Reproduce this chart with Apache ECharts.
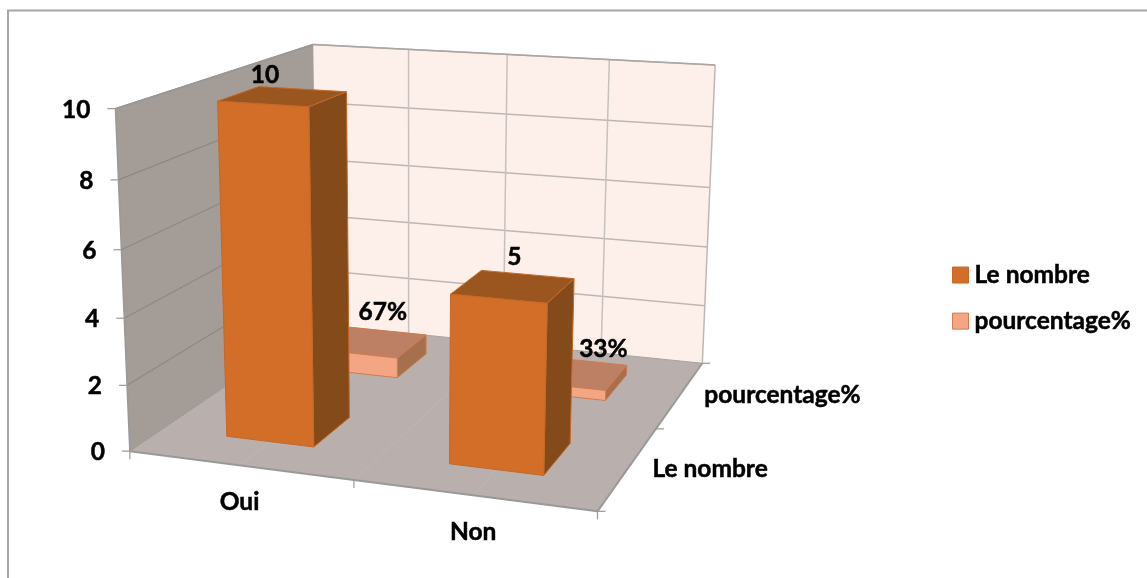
<!DOCTYPE html><html><body style="margin:0;background:#fff"><div id="c" style="width:1147px;height:578px"></div>
<script src="https://cdn.jsdelivr.net/npm/echarts@6/dist/echarts.min.js"></script>
<script>
var categories=['Oui','Non'];
var depthCategories=['Le nombre','pourcentage%'];
var nombreValues=[10,5];
var pourcentageValues=[0.67,0.33];
var valueTicks=[0,2,4,6,8,10];

// label nudges, in pixels (layout only)
var nombreLabelShift=[[-18,-21],[1,-29]];
var pourcentageLabelShift=[[10,-30],[29,-24]];

// camera fitted to the picture: floor and height in unit coordinates -> pixels
var CAM=[419.724,262.038,-20.003,129.843, 19.200,-50.554,-347.828,451.136, -0.08019,0.23579,-0.04873];
function project(s,t,h){
  var z=CAM[8]*s+CAM[9]*t+CAM[10]*h+1;
  return [(CAM[0]*s+CAM[1]*t+CAM[2]*h+CAM[3])/z,(CAM[4]*s+CAM[5]*t+CAM[6]*h+CAM[7])/z];
}
var FONT='Lato';var FS=24.5;
function txt(str,p,align,z2){return {type:'text',z2:z2||50,style:{text:str,x:p[0],y:p[1],align:align||'center',verticalAlign:'middle',fill:'#000',stroke:'#000',lineWidth:0.5,font:'700 '+FS+'px '+FONT}};}
function poly(pts,fill,stroke,lw,z2){return {type:'polygon',z2:z2||1,shape:{points:pts},style:{fill:fill,stroke:stroke||null,lineWidth:lw||0,lineJoin:'round'}};}
function seg(a,b,color,lw,z2){return {type:'line',z2:z2||5,shape:{x1:a[0],y1:a[1],x2:b[0],y2:b[1]},style:{stroke:color,lineWidth:lw}};}

function unitX(px,cs){return (px-cs.x)/cs.width;}
function unitY(py,cs){return (cs.y+cs.height-py)/cs.height;}

function barRenderer(depthIndex,colors,labelFmt,shifts){
  return function(params,api){
    var cs=params.coordSys;
    var i=api.value(0),v=api.value(1);
    var top=api.coord([i,v]);
    var halfBand=api.size([1,0])[0]*0.2;
    var s0=unitX(top[0]-halfBand,cs),s1=unitX(top[0]+halfBand,cs),sc=unitX(top[0],cs);
    var tc=(depthIndex+0.5)/depthCategories.length;
    var t0=tc-0.2/depthCategories.length,t1=tc+0.2/depthCategories.length;
    var h=unitY(top[1],cs);
    var a=project(s0,t0,h),b=project(s1,t0,h),c=project(s1,t1,h),d=project(s0,t1,h);
    var a0=project(s0,t0,0),b0=project(s1,t0,0),c0=project(s1,t1,0);
    var lbl=project(sc,tc,h);var sh=shifts[params.dataIndex];
    return {type:'group',children:[
      poly([d,c,b,a],colors.top,colors.edge,1,1),
      poly([b,c,c0,b0],colors.side,colors.edge,1,2),
      poly([a,b,b0,a0],colors.front,colors.edge,1,3),
      txt(labelFmt(v),[lbl[0]+sh[0],lbl[1]+sh[1]],'center',50)
    ]};
  };
}

function frame(params,api){
  var cs=params.coordSys;
  var ch=[];
  var FL=project(0,0,0),FR=project(1,0,0),BR=project(1,1,0),BL=project(0,1,0);
  var FLt=project(0,0,1),BRt=project(1,1,1),BLt=project(0,1,1);
  ch.push(poly([BLt,BRt,BR,BL],'#FDF0EB'));
  ch.push(poly([FLt,BLt,BL,FL],'#A39C97'));
  ch.push(poly([FL,FR,BR,BL],'#B9B0AD'));
  valueTicks.forEach(function(t){
    var h=unitY(api.coord([0,t])[1],cs);
    var p0=project(0,0,h),p1=project(0,1,h),p2=project(1,1,h);
    if(t>0){
      ch.push(seg(p0,p1,'#8E8884',1.2));
      ch.push(seg(p1,p2,'#BDB7B4',1.5));
    }
    ch.push(seg(p0,[p0[0]-8,p0[1]],'#999',1.2));
    ch.push(txt(String(t),[p0[0]-25,p0[1]+1],'right'));
  });
  [0.25,0.5,0.75].forEach(function(s){
    ch.push(seg(project(s,1,0),project(s,1,1),'#C6C1BF',1.5));
    ch.push(seg(project(s,0,0),project(s,1,0),'#BFB7B4',1));
  });
  ch.push(seg(FLt,FL,'#999',1.5));
  ch.push(seg(FLt,BLt,'#999',1.5));
  ch.push(seg(BLt,BRt,'#AAA5A3',1.5));
  ch.push(seg(BRt,BR,'#BDB7B4',1.5));
  ch.push(seg(BL,BR,'#A9A3A0',1));
  ch.push(seg(FL,BL,'#999',1));
  ch.push(seg(FL,FR,'#999',2));
  ch.push(seg(FR,BR,'#999',2));
  [0,0.5,1].forEach(function(s){var p=project(s,0,0);ch.push(seg(p,[p[0],p[1]+8],'#999',1.2));});
  [0,0.5,1].forEach(function(t){var p=project(1,t,0);ch.push(seg(p,[p[0]+8,p[1]],'#999',1.2));});
  categories.forEach(function(c,i){
    var cx=api.coord([i,0]);var p=project(unitX(cx[0],cs),0,0);
    ch.push(txt(c,[p[0],p[1]+37],'center'));
  });
  depthCategories.forEach(function(c,i){
    var p=project(1,(i+0.5)/depthCategories.length,0);
    ch.push(txt(c,[p[0]+24,p[1]+1],'left'));
  });
  return {type:'group',children:ch};
}

var nombreColors={front:'#D26E27',top:'#9B561F',side:'#854A1A',edge:'#C2692B'};
var pourcentageColors={front:'#F4A684',top:'#BE8064',side:'#A6704F',edge:'#CF7C50'};
function pairs(vals){return categories.map(function(c,i){return [c,vals[i]];});}

var chart=echarts.init(document.getElementById('c'));
chart.setOption({
  animation:false,
  backgroundColor:'#fff',
  grid:{left:130,width:466,top:109,height:341},
  xAxis:{type:'category',data:categories,show:false},
  yAxis:{type:'value',min:0,max:10,interval:2,show:false},
  legend:{show:true,orient:'vertical',left:952,top:256,padding:0,itemWidth:16,itemHeight:16,itemGap:8,icon:'rect',
    textStyle:{fontFamily:FONT,fontWeight:700,fontSize:FS,color:'#000',lineHeight:24,textBorderColor:'#000',textBorderWidth:0.5,padding:[0,0,0,1]},
    data:[{name:'Le nombre',itemStyle:{color:nombreColors.front,borderColor:nombreColors.edge,borderWidth:1}},
          {name:'pourcentage%',itemStyle:{color:pourcentageColors.front,borderColor:pourcentageColors.edge,borderWidth:1}}]},
  graphic:[{type:'polyline',silent:true,shape:{points:[[8,578],[8,10.5],[1147,10.5]]},style:{fill:null,stroke:'#A6A6A6',lineWidth:2}}],
  series:[
    {type:'custom',name:'frame',z:1,silent:true,renderItem:frame,data:[[categories[0],0]],encode:{x:0,y:1}},
    {type:'custom',name:'pourcentage%',z:2,silent:true,data:pairs(pourcentageValues),encode:{x:0,y:1},itemStyle:{color:pourcentageColors.front},
      renderItem:barRenderer(1,pourcentageColors,function(v){return Math.round(v*100)+'%';},pourcentageLabelShift)},
    {type:'custom',name:'Le nombre',z:3,silent:true,data:pairs(nombreValues),encode:{x:0,y:1},itemStyle:{color:nombreColors.front},
      renderItem:barRenderer(0,nombreColors,function(v){return String(v);},nombreLabelShift)}
  ]
});
</script></body></html>
